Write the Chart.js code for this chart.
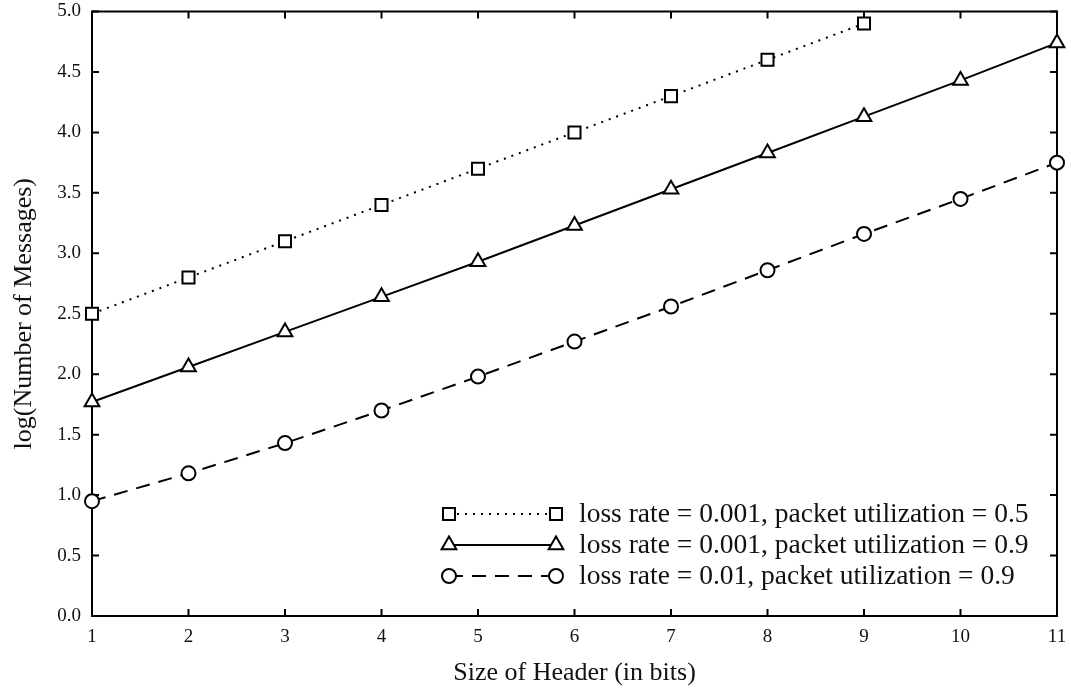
<!DOCTYPE html>
<html>
<head>
<meta charset="utf-8">
<script src="https://cdn.jsdelivr.net/npm/chart.js@4/dist/chart.umd.min.js"></script>
<style>
  html, body { margin: 0; padding: 0; background: #fff; }
  #wrap { width: 1071px; height: 693px; }
</style>
</head>
<body>
<div id="wrap"><canvas id="headerChart" width="1071" height="693"></canvas></div>
<script>
// --- data ---
const headerBits = [1, 2, 3, 4, 5, 6, 7, 8, 9, 10, 11];
const util05Loss001 = [2.5, 2.8, 3.1, 3.4, 3.7, 4.0, 4.3, 4.6, 4.9];
const util09Loss001 = [1.77, 2.06, 2.35, 2.64, 2.93, 3.23, 3.53, 3.83, 4.13, 4.43, 4.74];
const util09Loss01 = [0.95, 1.18, 1.43, 1.70, 1.98, 2.27, 2.56, 2.86, 3.16, 3.45, 3.75];
const yTicks = [0, 0.5, 1, 1.5, 2, 2.5, 3, 3.5, 4, 4.5, 5];

const seriesNames = [
  "loss rate = 0.001, packet utilization = 0.5",
  "loss rate = 0.001, packet utilization = 0.9",
  "loss rate = 0.01, packet utilization = 0.9",
];

const serif = "'Liberation Serif', 'DejaVu Serif', serif";

function toPoints(values) {
  return values.map((v, i) => ({ x: headerBits[i], y: v }));
}

// common look for all three series
function makeSet(label, values, style, radius, dash) {
  return {
    label: label,
    data: toPoints(values),
    borderColor: "#000",
    borderWidth: 2,
    borderDash: dash,
    backgroundColor: "#fff",
    pointStyle: style,
    pointRadius: radius,
    pointBorderWidth: 2,
    pointBorderColor: "#000",
    pointBackgroundColor: "#fff",
    tension: 0,
    clip: false,
  };
}

// box + inward ticks on every side (gnuplot style)
const frameBox = {
  id: "frameBox",
  beforeDatasetsDraw(chart) {
    const { ctx, chartArea: a } = chart;
    const xs = chart.scales.x;
    const ys = chart.scales.y;
    const len = 7;
    ctx.save();
    ctx.strokeStyle = "#000";
    ctx.lineWidth = 2;
    ctx.strokeRect(a.left, a.top, a.right - a.left, a.bottom - a.top);
    ctx.beginPath();
    headerBits.forEach((b) => {
      const px = xs.getPixelForValue(b);
      ctx.moveTo(px, a.bottom);
      ctx.lineTo(px, a.bottom - len);
      ctx.moveTo(px, a.top);
      ctx.lineTo(px, a.top + len);
    });
    yTicks.forEach((t) => {
      const py = ys.getPixelForValue(t);
      ctx.moveTo(a.left, py);
      ctx.lineTo(a.left + len, py);
      ctx.moveTo(a.right, py);
      ctx.lineTo(a.right - len, py);
    });
    ctx.stroke();
    ctx.restore();
  },
};

// legend with a marker at both ends of the line sample
const endLegend = {
  id: "endLegend",
  afterDatasetsDraw(chart) {
    const { ctx } = chart;
    const x0 = 449, x1 = 556, textX = 579;
    const rows = [514, 545, 576];
    ctx.save();
    chart.data.datasets.forEach((ds, i) => {
      const y = rows[i];
      ctx.strokeStyle = "#000";
      ctx.lineWidth = 2;
      ctx.setLineDash(ds.borderDash || []);
      ctx.beginPath();
      ctx.moveTo(x0, y);
      ctx.lineTo(x1, y);
      ctx.stroke();
      ctx.setLineDash([]);
      ctx.fillStyle = "#fff";
      const opts = { pointStyle: ds.pointStyle, radius: ds.pointRadius, rotation: 0, borderWidth: 2 };
      Chart.helpers.drawPoint(ctx, opts, x0, y);
      Chart.helpers.drawPoint(ctx, opts, x1, y);
      ctx.fillStyle = "#111";
      ctx.font = "27.5px " + serif;
      ctx.textBaseline = "middle";
      ctx.textAlign = "left";
      ctx.fillText(ds.label, textX, y + 1);
    });
    ctx.restore();
  },
};

new Chart(document.getElementById("headerChart"), {
  type: "line",
  data: {
    datasets: [
      makeSet(seriesNames[0], util05Loss001, "rect", 8.5, [2, 6]),
      makeSet(seriesNames[1], util09Loss001, "triangle", 8.5, []),
      makeSet(seriesNames[2], util09Loss01, "circle", 7, [14, 9]),
    ],
  },
  options: {
    responsive: false,
    animation: false,
    layout: { autoPadding: false, padding: { top: 11.5, right: 14, left: 0, bottom: 0 } },
    plugins: { legend: { display: false }, tooltip: { enabled: false } },
    scales: {
      x: {
        type: "linear",
        min: 1,
        max: 11,
        afterFit: (s) => {
          s.height = 77;
          s.paddingLeft = 0;
          s.paddingRight = 0;
        },
        grid: { display: false, drawTicks: false },
        border: { display: false },
        ticks: {
          stepSize: 1,
          padding: 10,
          color: "#111",
          font: { family: serif, size: 19 },
        },
        title: {
          display: true,
          text: "Size of Header (in bits)",
          color: "#111",
          font: { family: serif, size: 26 },
          padding: { top: 4, bottom: 4 },
        },
      },
      y: {
        min: 0,
        max: 5,
        afterFit: (s) => {
          s.width = 92;
          s.paddingTop = 0;
          s.paddingBottom = 0;
        },
        grid: { display: false, drawTicks: false },
        border: { display: false },
        ticks: {
          stepSize: 0.5,
          padding: 11,
          color: "#111",
          font: { family: serif, size: 19 },
          callback: (v) => Number(v).toFixed(1),
        },
        title: {
          display: true,
          text: "log(Number of Messages)",
          color: "#111",
          font: { family: serif, size: 26 },
          padding: { top: 9, bottom: 4 },
        },
      },
    },
  },
  plugins: [frameBox, endLegend],
});
</script>
</body>
</html>
